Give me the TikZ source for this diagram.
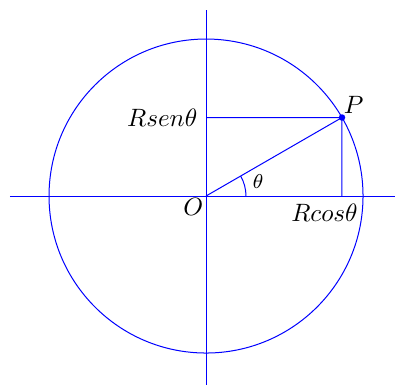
\documentclass[tikz,border=0pt]{standalone}
\usepackage{amsmath}
\usepackage{amssymb}
\usepackage{xcolor}
\usepackage{tikz}

\begin{document}
\begin{tikzpicture}[line width=0.4pt, ln/.style={blue}, lbl/.style={inner sep=1pt, text=black}]
				\useasboundingbox (-2.887,-2.676) rectangle (2.648,2.747);
				\coordinate (O) at (0,0);
				\coordinate (xl) at (-2.747,0);
				\coordinate (xr) at (2.648,0);
				\coordinate (yt) at (0,2.606);
				\coordinate (yb) at (0,-2.648);
				\coordinate (P) at (30:2.2);
				\coordinate (footx) at (1.9053,0);
				\coordinate (footy) at (0,1.1);
				
				\draw[ln] (xl) -- (xr);
				\draw[ln] (yt) -- (yb);
				\draw[ln] (O) circle (2.2);
				\draw[ln] (O) -- (P);
				\draw[ln] (footy) -- (P);
				\draw[ln] (P) -- (footx);
				\draw[ln] (0.56,0) arc (0:30:0.56);
				\fill[blue] (P) circle (1.3pt);
				
				\node[lbl] (labP) at (2.07,1.27) {$P$};
				\node[lbl] (labO) at (-0.18,-0.15) {$O$};
				\node[lbl] (labth) at (0.73,0.21) {\footnotesize$\theta$};
				\node[lbl, anchor=east] (labsen) at (-0.08,1.1) {$Rsen\theta$};
				\node[lbl] (labcos) at (1.66,-0.23) {$Rcos\theta$};
			\end{tikzpicture}
\end{document}
